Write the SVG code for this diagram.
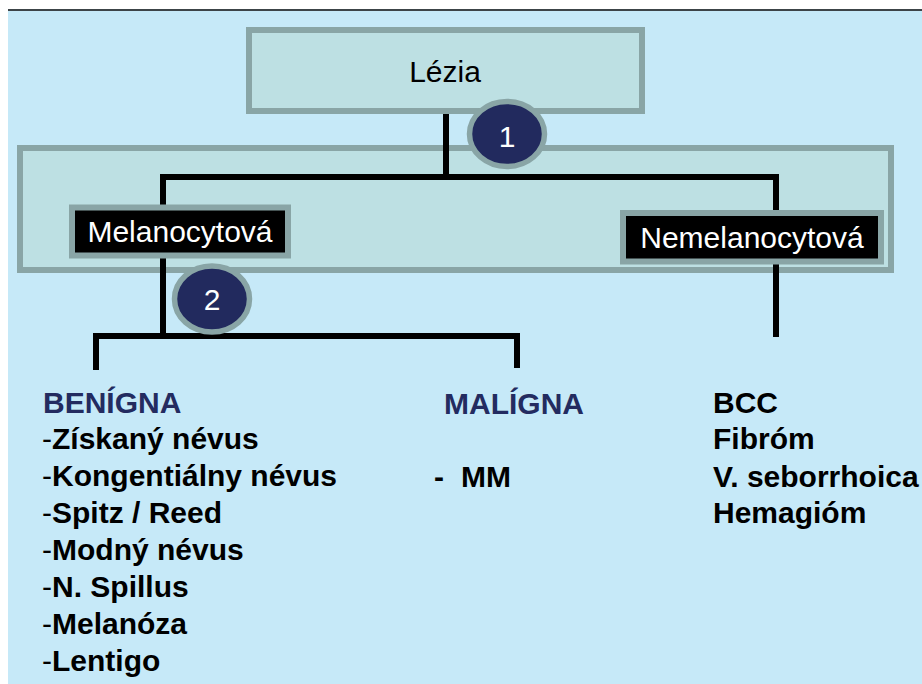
<svg xmlns="http://www.w3.org/2000/svg" width="922" height="684" viewBox="0 0 922 684">
<style>
.box{fill:#bde0e3;stroke:#89a5a6;stroke-width:6}
.lbl{fill:#000;stroke:#89a5a6;stroke-width:6}
.t{font-family:"Liberation Sans",Arial,sans-serif;font-size:30px}
.w{fill:#fff}
.b{font-weight:bold}
.navy{fill:#232b60}
.num{fill:#222a5e;stroke:#89a5a6;stroke-width:5.5}
.conn{fill:none;stroke:#000;stroke-width:6}
</style>
<rect x="0" y="0" width="922" height="684" fill="#fff"/>
<rect x="8" y="10" width="914" height="674" fill="#c6e9f8"/>
<rect x="8" y="9" width="914" height="2" fill="#3c4448"/>
<g id="group-box">
<rect class="box" x="20" y="148" width="871" height="122"/>
</g>
<g id="connectors">
<path class="conn" d="M446,113 V177"/>
<path class="conn" d="M163,207 V177 H776 V213"/>
<path class="conn" d="M163,258 V336"/>
<path class="conn" d="M96,370 V336 H517 V368"/>
<path class="conn" d="M776,264 V337"/>
</g>
<g id="lezia">
<rect class="box" x="249" y="30" width="393" height="81"/>
<text class="t" x="445" y="82" text-anchor="middle">Lézia</text>
</g>
<g id="melanocytova">
<rect class="lbl" x="72" y="207.5" width="216" height="48"/>
<text class="t w" x="180" y="242" text-anchor="middle">Melanocytová</text>
</g>
<g id="nemelanocytova">
<rect class="lbl" x="623" y="213" width="258" height="48.5"/>
<text class="t w" x="752" y="248" text-anchor="middle">Nemelanocytová</text>
</g>
<g id="step1">
<ellipse class="num" cx="507" cy="134" rx="37.5" ry="32.5"/>
<text class="t w" x="507" y="147" text-anchor="middle">1</text>
</g>
<g id="step2">
<ellipse class="num" cx="212" cy="299" rx="37.5" ry="33"/>
<text class="t w" x="212" y="310" text-anchor="middle">2</text>
</g>
<g id="benigna">
<text class="t b navy" x="43" y="413">BENÍGNA</text>
<text class="t" x="42" y="449">-<tspan class="b">Získaný névus</tspan></text>
<text class="t" x="42" y="486">-<tspan class="b">Kongentiálny névus</tspan></text>
<text class="t" x="42" y="523">-<tspan class="b">Spitz / Reed</tspan></text>
<text class="t" x="42" y="560">-<tspan class="b">Modný névus</tspan></text>
<text class="t" x="42" y="597">-<tspan class="b">N. Spillus</tspan></text>
<text class="t" x="42" y="634">-<tspan class="b">Melanóza</tspan></text>
<text class="t" x="42" y="671">-<tspan class="b">Lentigo</tspan></text>
</g>
<g id="maligna">
<text class="t b navy" x="444" y="414">MALÍGNA</text>
<text class="t b" x="434" y="487">-<tspan x="461">MM</tspan></text>
</g>
<g id="nemelanocytove-lezie">
<text class="t b" x="713" y="413">BCC</text>
<text class="t b" x="713" y="449">Fibróm</text>
<text class="t b" x="713" y="487">V. seborrhoica</text>
<text class="t b" x="713" y="523">Hemagióm</text>
</g>
</svg>
